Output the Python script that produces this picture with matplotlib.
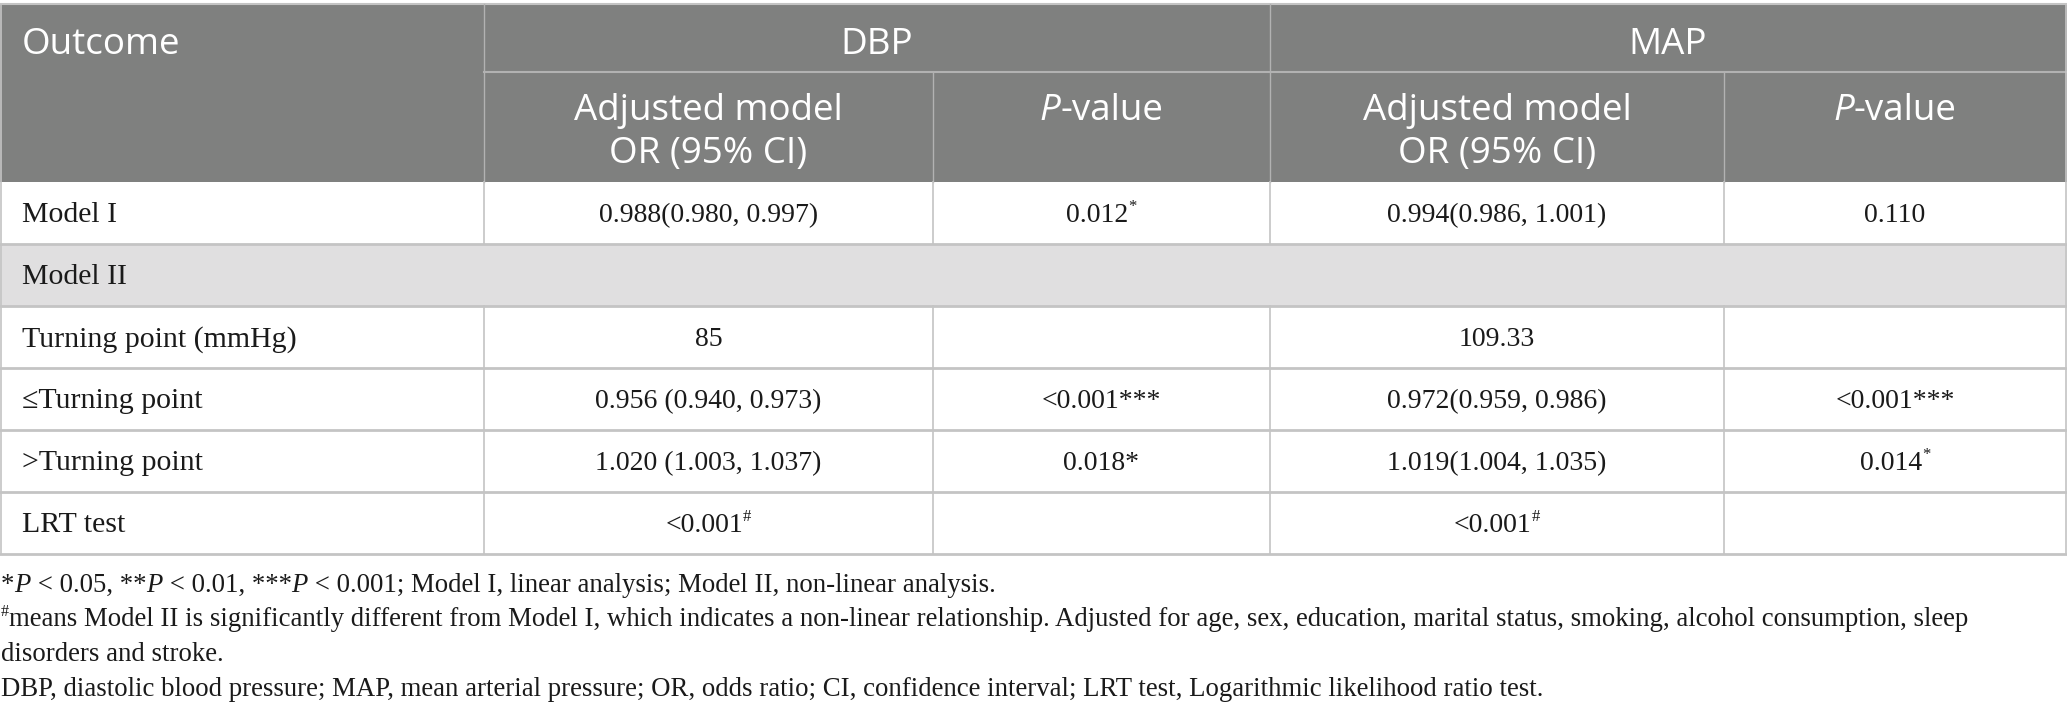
import matplotlib
matplotlib.use('Agg')
import matplotlib.pyplot as plt
from matplotlib.patches import Rectangle

# table content ("^" marks a raised, small marker)
row_labels = ['Model I', 'Model II', 'Turning point (mmHg)', '\u2264Turning point',
              '>Turning point', 'LRT test']
dbp_or = ['0.988(0.980, 0.997)', None, '85', '0.956 (0.940, 0.973)',
          '1.020 (1.003, 1.037)', '<0.001^#']
dbp_p = ['0.012^*', None, '', '<0.001***', '0.018*', '']
map_or = ['0.994(0.986, 1.001)', None, '109.33', '0.972(0.959, 0.986)',
          '1.019(1.004, 1.035)', '<0.001^#']
map_p = ['0.110', None, '', '<0.001***', '0.014^*', '']

outcomes = ['DBP', 'MAP']
first_header = 'Outcome'
sub_header_or = ['Adjusted model', 'OR (95% CI)']

# footnotes: (text, style) runs; n normal, i italic, s superscript
notes = [
    [('*', 'n'), ('P', 'i'), (' < 0.05, **', 'n'), ('P', 'i'), (' < 0.01, ***', 'n'),
     ('P', 'i'), (' < 0.001; Model I, linear analysis; Model II, non-linear analysis.', 'n')],
    [('#', 's'), ('means Model II is significantly different from Model I, which indicates a '
                  'non-linear relationship. Adjusted for age, sex, education, marital status, '
                  'smoking, alcohol consumption, sleep', 'n')],
    [('disorders and stroke.', 'n')],
    [('DBP, diastolic blood pressure; MAP, mean arterial pressure; OR, odds ratio; '
      'CI, confidence interval; LRT test, Logarithmic likelihood ratio test.', 'n')],
]

W, H = 2067, 718
col_x = [0, 484, 933, 1270, 1724, 2066]
head_top, head_mid, head_bot = 4, 72, 182
row_h = 62
HEAD_BG = '#7f807f'
GROUP_BG = '#e0dfe0'
LINE = '#c4c4c4'
HEAD_LINE = '#b2b2b2'
SERIF = ['Liberation Serif', 'DejaVu Serif']
SANS = ['Open Sans', 'DejaVu Sans']
label_size = 21.5
value_size = 20
note_size = 19.3
head_size = 26.5

fig = plt.figure(figsize=(W / 100, H / 100), dpi=100)
ax = fig.add_axes([0, 0, 1, 1])
ax.set_xlim(0, W)
ax.set_ylim(H, 0)
ax.axis('off')
renderer = fig.canvas.get_renderer()


def text_w(s, **kw):
    t = ax.text(0, 0, s, **kw)
    w = t.get_window_extent(renderer).width
    t.remove()
    return w


def advance(s, **kw):
    return text_w('|' + s + '|', **kw) - text_w('||', **kw)


def draw_runs(x, y, runs, size, family, color='#1a1a1a', ha='left'):
    items = []
    for s, st in runs:
        kw = dict(fontsize=size, family=family, color=color, va='baseline')
        dy = 0
        if st == 'i':
            kw['style'] = 'italic'
        if st == 's':
            kw['fontsize'] = size * 0.6
            dy = -size * 0.55
        items.append((s, kw, dy, advance(s, **kw)))
    total = sum(it[3] for it in items)
    x0 = x - total / 2 if ha == 'center' else x
    for s, kw, dy, w in items:
        ax.text(x0, y + dy, s, **kw)
        x0 += w


def cell_runs(s):
    if '^' in s:
        a, b = s.split('^')
        return [(a, 'n'), (b, 's')]
    return [(s, 'n')]


# header background and lines
ax.add_patch(Rectangle((0, head_top), W, head_bot - head_top, color=HEAD_BG, lw=0))
ax.plot([0, W], [head_top, head_top], color=LINE, lw=1.5)
ax.plot([col_x[1], W], [head_mid, head_mid], color=HEAD_LINE, lw=1.5)
for xv in [col_x[1], col_x[3]]:
    ax.plot([xv, xv], [head_top, head_bot], color=HEAD_LINE, lw=1)
for xv in [col_x[2], col_x[4]]:
    ax.plot([xv, xv], [head_mid, head_bot], color=HEAD_LINE, lw=1)

hkw = dict(fontsize=head_size, family=SANS, color='white', va='baseline')
ax.text(22, 54, first_header, ha='left', **hkw)
for i, name in enumerate(outcomes):
    xa, xb = col_x[1 + 2 * i], col_x[3 + 2 * i]
    ax.text((xa + xb) / 2, 54, name, ha='center', **hkw)
    cx = (col_x[1 + 2 * i] + col_x[2 + 2 * i]) / 2
    ax.text(cx, 120, sub_header_or[0], ha='center', **hkw)
    ax.text(cx, 163, sub_header_or[1], ha='center', **hkw)
    px = (col_x[2 + 2 * i] + col_x[3 + 2 * i]) / 2
    draw_runs(px, 120, [('P', 'i'), ('-value', 'n')], head_size, SANS, color='white',
              ha='center')

# body rows
cols = [dbp_or, dbp_p, map_or, map_p]
for r, label in enumerate(row_labels):
    y0 = head_bot + r * row_h
    y1 = y0 + row_h
    mid = (y0 + y1) / 2
    if cols[0][r] is None:
        ax.add_patch(Rectangle((0, y0), W, row_h, color=GROUP_BG, lw=0))
    else:
        for xv in col_x[1:-1]:
            ax.plot([xv, xv], [y0, y1], color=LINE, lw=1.2)
        for c, vals in enumerate(cols):
            cx = (col_x[c + 1] + col_x[c + 2]) / 2
            if vals[r]:
                draw_runs(cx, mid + value_size * 0.45, cell_runs(vals[r]), value_size,
                          SERIF, ha='center')
    draw_runs(22, mid + label_size * 0.43, [(label, 'n')], label_size, SERIF)
    ax.plot([0, W], [y1, y1], color=LINE, lw=2)

table_bot = head_bot + len(row_labels) * row_h
ax.plot([0.5, 0.5], [head_top, table_bot], color=LINE, lw=1.2)
ax.plot([W - 1, W - 1], [head_top, table_bot], color=LINE, lw=1.2)

# footnotes
for k, runs in enumerate(notes):
    draw_runs(1, 592 + 34.5 * k, runs, note_size, SERIF)

fig.savefig('out.png', dpi=100)
